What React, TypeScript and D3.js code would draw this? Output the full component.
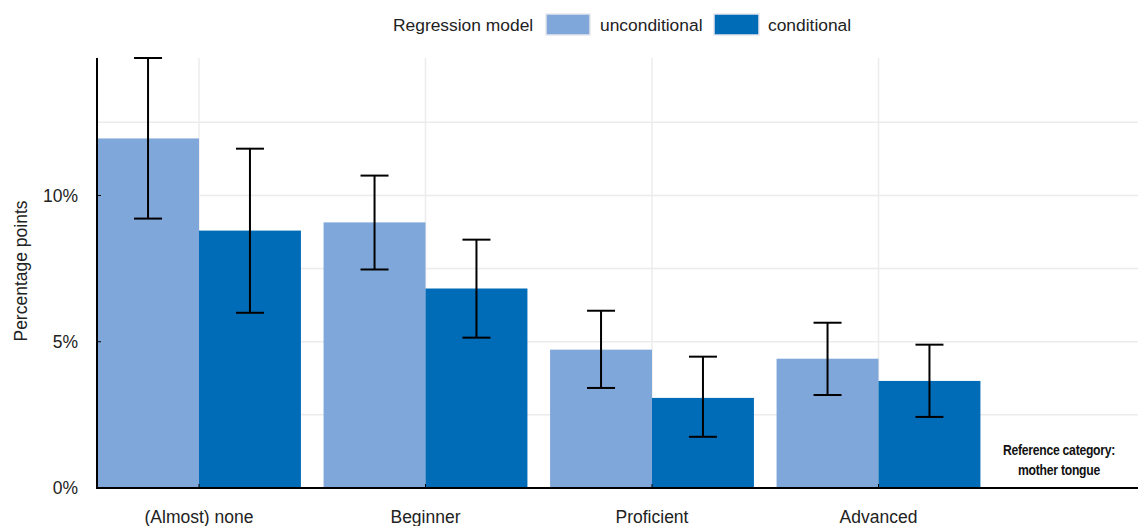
import React from 'react';
import * as d3 from 'd3';

const categories = ['(Almost) none', 'Beginner', 'Proficient', 'Advanced', 'mother tongue'];
const series = ['unconditional', 'conditional'];
const seriesColors = ['#7FA7D9', '#006BB6'];

// point estimates and 95% bounds, in percentage points
const unconditional = [11.95, 9.08, 4.73, 4.42];
const unconditionalLow = [9.21, 7.47, 3.42, 3.18];
const unconditionalHigh = [14.7, 10.68, 6.06, 5.65];
const conditional = [8.8, 6.82, 3.08, 3.66];
const conditionalLow = [5.99, 5.14, 1.75, 2.43];
const conditionalHigh = [11.6, 8.49, 4.49, 4.9];

const yTicks = [0, 5, 10];
const yGrid = [2.5, 5, 7.5, 10, 12.5];

const W = 1138;
const H = 526;
const left = 97;
const bottom = 488;
const top = 58;

export default function App() {
  const x = d3.scalePoint<string>().domain(categories).range([199, 1105]);
  const y = d3.scaleLinear().domain([0, 14.7]).range([bottom, top]);
  const barW = x.step() * 0.45;
  const font = '"Liberation Sans", Arial, sans-serif';

  const groups = [
    {vals: unconditional, lo: unconditionalLow, hi: unconditionalHigh, off: -barW, color: seriesColors[0]},
    {vals: conditional, lo: conditionalLow, hi: conditionalHigh, off: 0, color: seriesColors[1]},
  ];

  return (
    <svg width={W} height={H} style={{position: 'absolute', left: 0, top: 0, background: '#fff'}}>
      {/* grid */}
      {yGrid.map(v => (
        <line key={'gy' + v} x1={left} x2={W} y1={y(v)} y2={y(v)} stroke="#ececec" strokeWidth={1.5} />
      ))}
      {categories.slice(0, 4).map(c => (
        <line key={'gx' + c} x1={x(c)} x2={x(c)} y1={top} y2={bottom} stroke="#ececec" strokeWidth={1.5} />
      ))}

      {/* bars */}
      {groups.map((g, gi) =>
        g.vals.map((v, i) => (
          <rect
            key={gi + '-' + i}
            x={(x(categories[i]) as number) + g.off}
            y={y(v)}
            width={barW}
            height={bottom - y(v)}
            fill={g.color}
          />
        )),
      )}

      {/* error bars */}
      {groups.map((g, gi) =>
        g.vals.map((v, i) => {
          const cx = (x(categories[i]) as number) + g.off + barW / 2;
          return (
            <g key={'e' + gi + '-' + i} stroke="#000" strokeWidth={2}>
              <line x1={cx} x2={cx} y1={y(g.lo[i])} y2={y(g.hi[i])} />
              <line x1={cx - 14} x2={cx + 14} y1={y(g.lo[i])} y2={y(g.lo[i])} />
              <line x1={cx - 14} x2={cx + 14} y1={y(g.hi[i])} y2={y(g.hi[i])} />
            </g>
          );
        }),
      )}

      {/* axes */}
      <line x1={left} x2={left} y1={top} y2={bottom + 1} stroke="#000" strokeWidth={2} />
      <line x1={left - 1} x2={W} y1={bottom} y2={bottom} stroke="#000" strokeWidth={2} />
      {yTicks.map(t => (
        <g key={'yt' + t}>
          <line x1={left} x2={left + 4} y1={y(t)} y2={y(t)} stroke="#000" strokeWidth={1} />
          <text x={78} y={y(t)} dy="0.35em" textAnchor="end" fontFamily={font} fontSize={17.5} fill="#222">
            {t}%
          </text>
        </g>
      ))}
      {categories.slice(0, 4).map(c => (
        <g key={'xt' + c}>
          <line x1={x(c)} x2={x(c)} y1={bottom - 4} y2={bottom} stroke="#000" strokeWidth={1} />
          <text x={x(c)} y={523} textAnchor="middle" fontFamily={font} fontSize={17.5} fill="#222">
            {c}
          </text>
        </g>
      ))}

      <text
        transform={`translate(27,${(top + bottom) / 2 - 2}) rotate(-90)`}
        textAnchor="middle"
        fontFamily={font}
        fontSize={17.5}
        fill="#222"
      >
        Percentage points
      </text>

      {/* reference note, squeezed horizontally */}
      <g
        transform="translate(1059,0) scale(0.84,1)"
        fontFamily={font}
        fontSize={14.5}
        fontWeight="bold"
        fill="#111"
        textAnchor="middle"
        letterSpacing={-0.3}
      >
        <text x={0} y={455}>Reference category:</text>
        <text x={0} y={475}>mother tongue</text>
      </g>

      {/* legend */}
      <g fontFamily={font} fontSize={17.4} fill="#222">
        <text x={393} y={31}>Regression model</text>
        <rect x={546} y={14} width={44} height={21} fill={seriesColors[0]} stroke="#e6e6ee" strokeWidth={1.5} />
        <text x={600} y={31}>{series[0]}</text>
        <rect x={714} y={14} width={45} height={21} fill={seriesColors[1]} stroke="#e6e6ee" strokeWidth={1.5} />
        <text x={768} y={31}>{series[1]}</text>
      </g>
    </svg>
  );
}
